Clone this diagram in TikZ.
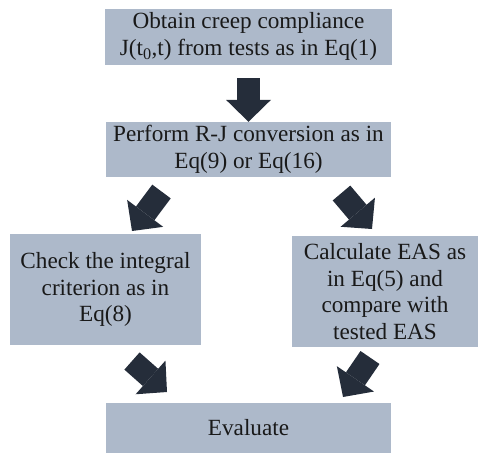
\documentclass[tikz,border=0pt]{standalone}
\usepackage{fontspec}
\setmainfont{Liberation Serif}
\usetikzlibrary{arrows.meta}
\definecolor{boxfill}{HTML}{ADB9CA}
\definecolor{arrowcol}{HTML}{252D3A}
\begin{document}
\begin{tikzpicture}[x=1pt,y=-1pt,
  box/.style={fill=boxfill, inner sep=0pt, align=center,
    font=\fontsize{23.2}{26.5}\selectfont, text=black!90},
  bigarrow/.style={draw=arrowcol, line width=23pt, line cap=butt,
    -{Triangle[width=45pt,length=22pt,line width=0pt]}}]
\useasboundingbox (0,0) rectangle (479,453);
\node[box, minimum width=287pt, minimum height=56pt] (top) at (248.5,36.5)
  {Obtain creep compliance\\J(t\textsubscript{0},t) from tests as in Eq(1)};
\node[box, minimum width=285pt, minimum height=55pt] (mid) at (248.5,149.5)
  {Perform R-J conversion as in\\Eq(9) or Eq(16)};
\node[box, minimum width=191pt, minimum height=111pt] (left) at (105.5,289.5)
  {Check the integral\\criterion as in\\Eq(8)};
\node[box, minimum width=186pt, minimum height=111pt] (right) at (385,291.5)
  {Calculate EAS as\\in Eq(5) and\\compare with\\tested EAS};
\node[box, minimum width=285pt, minimum height=50pt] (bottom) at (248.5,428)
  {Evaluate};
\coordinate (a1s) at (248.5,78);
\coordinate (a2s) at (161.5,191.5);
\coordinate (a2e) at (132,231);
\coordinate (a3s) at (341.5,193);
\coordinate (a3e) at (372,229);
\coordinate (a4s) at (132,361);
\coordinate (a4e) at (167,392);
\coordinate (a5s) at (370,357.5);
\coordinate (a5e) at (343,397);
\draw[bigarrow] (a1s) -- (mid.north);
\draw[bigarrow] (a2s) -- (a2e);
\draw[bigarrow] (a3s) -- (a3e);
\draw[bigarrow] (a4s) -- (a4e);
\draw[bigarrow] (a5s) -- (a5e);
\end{tikzpicture}
\end{document}
